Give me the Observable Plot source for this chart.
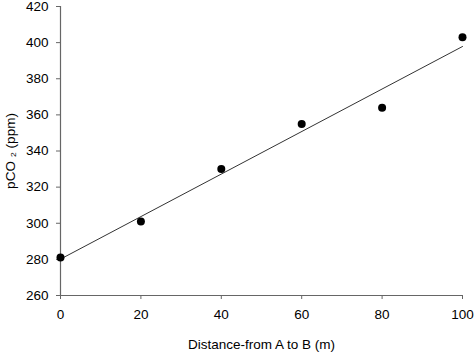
<!DOCTYPE html>
<html>
<head>
<meta charset="utf-8">
<script src="https://cdn.jsdelivr.net/npm/d3@7"></script>
<script src="https://cdn.jsdelivr.net/npm/@observablehq/plot@0.6"></script>
<style>
  html, body { margin: 0; padding: 0; background: #fff; overflow: hidden; }
</style>
</head>
<body>
<div id="chart"></div>
<script>
const distance = [0, 20, 40, 60, 80, 100];
const pco2 = [281, 301, 330, 355, 364, 403];
const xTicks = [0, 20, 40, 60, 80, 100];
const yTicks = [260, 280, 300, 320, 340, 360, 380, 400, 420];
const xLabel = "Distance-from A to B (m)";
const yLabel = "pCO \u2082 (ppm)";

const data = distance.map((d, i) => ({x: d, y: pco2[i]}));

const chart = Plot.plot({
  width: 474,
  height: 353,
  marginLeft: 60,
  marginRight: 12,
  marginTop: 6,
  marginBottom: 58,
  x: {domain: [0, 100]},
  y: {domain: [260, 420]},
  style: {fontFamily: "'Liberation Sans', Arial, sans-serif", fontSize: "13.5px", color: "#000", background: "#fff", overflow: "visible"},
  marks: [
    Plot.axisX({ticks: xTicks, tickSize: 4, tickPadding: 10, stroke: "#666", fill: "#000", label: xLabel, labelAnchor: "center", labelOffset: 53, labelArrow: "none"}),
    Plot.axisY({ticks: yTicks, tickSize: 4, tickPadding: 8, stroke: "#666", fill: "#000", label: yLabel, labelAnchor: "center", labelOffset: 55, labelArrow: "none"}),
    Plot.ruleX([0], {stroke: "#666", strokeWidth: 1.2}),
    Plot.ruleY([260], {stroke: "#666", strokeWidth: 1.2}),
    Plot.linearRegressionY(data, {x: "x", y: "y", ci: 0, stroke: "#333", strokeWidth: 1}),
    Plot.dot(data, {x: "x", y: "y", r: 4, fill: "#000"})
  ]
});
document.getElementById("chart").appendChild(chart);
</script>
</body>
</html>
